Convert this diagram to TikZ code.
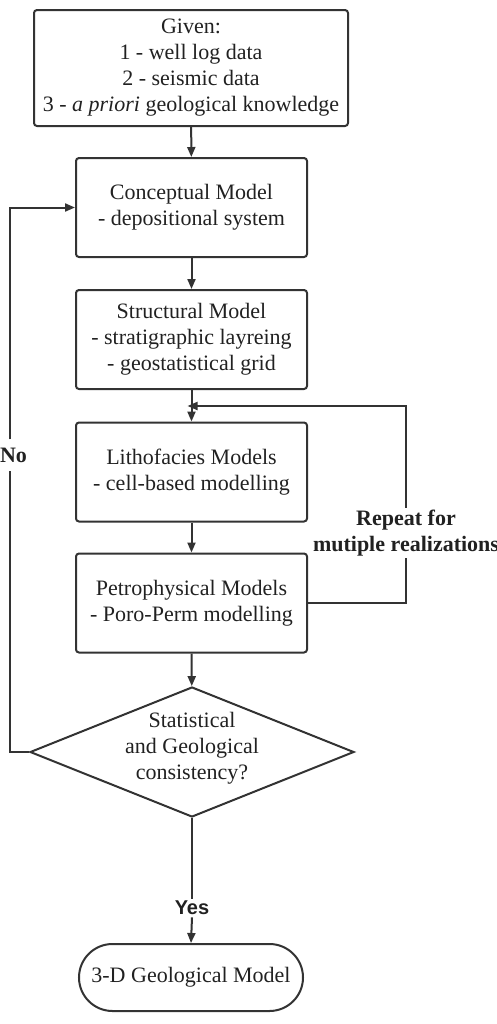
\documentclass[tikz,border=0pt]{standalone}
\usepackage{fontspec}
\setmainfont{Liberation Serif}
\newfontfamily\labelsans{Liberation Sans}
\usetikzlibrary{arrows.meta,shapes.geometric,shapes.misc}
\definecolor{linegray}{gray}{0.2}
\definecolor{textgray}{gray}{0.13}
\begin{document}
\begin{tikzpicture}
[x=0.5pt,y=-0.5pt,
  boxdecorate/.style={shape=rectangle,draw=linegray,line width=1pt,rounded corners=1.5pt,
    align=center,minimum width=115.5pt,minimum height=49.5pt,inner sep=2pt,
    font=\fontsize{11}{13}\selectfont,text=textgray},%
  decisiondecorate/.style={shape=diamond,draw=linegray,line width=1pt,aspect=2.5,
    align=center,minimum width=162pt,minimum height=65pt,inner xsep=-6pt,inner ysep=0pt,
    font=\fontsize{11}{13}\selectfont,text=textgray},%
  enddecorate/.style={shape=rounded rectangle,draw=linegray,line width=1pt,
    minimum width=116pt,minimum height=33.5pt,inner sep=2pt,
    font=\fontsize{11}{13}\selectfont,text=textgray},%
  labeldecorate/.style={align=center,inner sep=1pt,text=textgray,
    font=\fontsize{11}{13}\selectfont\bfseries},%
  linedecorate/.style={draw=linegray,line width=1pt},%
  arrowdecorate/.style={linedecorate,-{Triangle[length=5pt,width=4pt]}}]
\useasboundingbox (0,0) rectangle (497,1024);
%% boxes
\node (given) at (191,68) [boxdecorate,minimum width=157pt,minimum height=58pt]
  {Given:\\1 - well log data\\2 - seismic data\\3 - \textit{a priori} geological knowledge};
\node (concept) at (191.5,207.5) [boxdecorate] {Conceptual Model\\- depositional system};
\node (struct) at (191.5,339.5) [boxdecorate]
  {Structural Model\\- stratigraphic layreing\\- geostatistical grid};
\node (litho) at (191.5,472) [boxdecorate] {Lithofacies Models\\- cell-based modelling};
\node (petro) at (191.5,603) [boxdecorate] {Petrophysical Models\\- Poro-Perm modelling};
\node (dec) at (192,752) [decisiondecorate]
  {Statistical\\and Geological\\consistency?\\[-7pt]};
\node (final) at (191,977.5) [enddecorate] {3-D Geological Model};
%% labels
\node (no) at (13.5,455) [labeldecorate,inner sep=0pt] {No};
\node (rep) at (406,533) [labeldecorate] {Repeat for\\mutiple realizations};
\node (yes) at (192,908) [labeldecorate,font=\labelsans\fontsize{10}{12}\selectfont\bfseries] {Yes};
\coordinate (merge) at (191.5,406);
%% straight arrows
\path
\foreach \startnode/\endnode in {given/concept, concept/struct, struct/litho,
  litho/petro, petro/dec} {
  (\startnode) edge[arrowdecorate] (\endnode)
};
%% loops
\draw[linedecorate] (dec.west) -| ([xshift=-1.75pt,yshift=-4pt]no.south);
\draw[arrowdecorate] ([xshift=-1.75pt,yshift=4pt]no.north) |- (concept.west);
\draw[linedecorate] (petro.east) -| (rep.south);
\draw[arrowdecorate,shorten >=-2pt] (rep.north) |- (merge);
\draw[linedecorate] (dec.south) -- (yes.north);
\draw[arrowdecorate] (yes.south) -- (final.north);
\end{tikzpicture}
\end{document}
